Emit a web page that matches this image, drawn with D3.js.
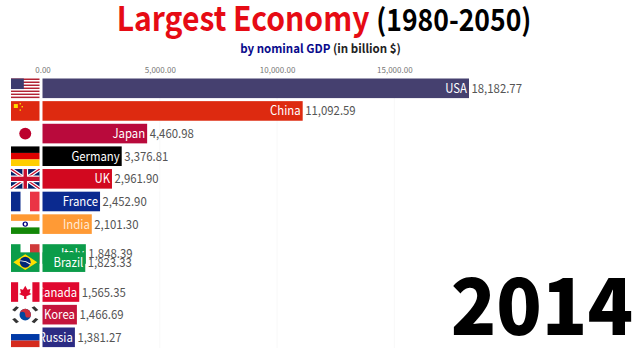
<!DOCTYPE html>
<html>
<head>
<meta charset="utf-8">
<script src="https://cdn.jsdelivr.net/npm/d3@7"></script>
<style>
  html, body { margin: 0; background: #fff; }
  svg { display: block; }
  text { font-family: "Noto Sans CJK KR", "Noto Sans", sans-serif; }
</style>
</head>
<body>
<svg id="svg" width="640" height="360"></svg>
<script>
// drawn back to front, Italy sits behind Brazil because the two are swapping places
const categories = ['USA', 'China', 'Japan', 'Germany', 'UK', 'France', 'India', 'Italy', 'Brazil', 'Canada', 'Korea', 'Russia']
const gdp = [18182.77, 11092.59, 4460.98, 3376.81, 2961.90, 2452.90, 2101.30, 1848.39, 1823.33, 1565.35, 1466.69, 1381.27]
const ranks = [0, 1, 2, 3, 4, 5, 6, 7.32, 7.68, 9, 10, 11]
const barColors = ['#45406f', '#dd2a10', '#b90a3c', '#000000', '#d2081f', '#0b2a8f', '#ff9a35', '#0b9c4a', '#0b9c4a', '#e0082f', '#c4153c', '#2b2b83']
const xTicks = [0, 5000, 10000, 15000]
const year = '2014'

const margin = {top: 78.5, left: 42.5}
const barHeight = 19.6
const flagX = 11
const flagWidth = 28.5
const squeeze = 0.91 // the source video is a little narrower than the font

const svg = d3.select('#svg')

let x_scale = d3.scaleLinear().domain([0, 18182.77]).range([margin.left, 469])
let y_scale = d3.scaleLinear().domain([0, 11]).range([margin.top, 327.5])

// titles
let title = svg.append('text')
  .attr('transform', 'translate(324, 31) scale(0.885, 1)')
  .attr('text-anchor', 'middle')
  .attr('font-size', 34)
  .attr('font-weight', 700)
title.append('tspan').attr('fill', '#e60b14').text('Largest Economy ')
title.append('tspan').attr('fill', '#000').attr('font-size', 30).text('(1980-2050)')

let subtitle = svg.append('text')
  .attr('transform', 'translate(320.5, 53) scale(0.96, 1)')
  .attr('text-anchor', 'middle')
  .attr('font-size', 12)
  .attr('font-weight', 700)
subtitle.append('tspan').attr('fill', '#0a0a8c').text('by nominal GDP ')
subtitle.append('tspan').attr('fill', '#222').text('(in billion $)')

// axis on top, with very faint grid lines
let x_axis_data = d3.axisTop(x_scale)
  .tickValues(xTicks)
  .tickFormat(d3.format(',.2f'))
  .tickSize(0)
let x_axis = svg.append('g')
  .attr('class', 'x axis')
  .attr('transform', 'translate(0, 76)')
x_axis.call(x_axis_data)
x_axis.select('.domain').remove()
x_axis.selectAll('text')
  .attr('fill', '#777')
  .attr('font-size', 8)
  .style('font-family', '"Noto Sans CJK KR", "Noto Sans", sans-serif')

svg.append('g').selectAll('line')
  .data(xTicks.slice(1))
  .join('line')
  .attr('x1', d => x_scale(d)).attr('x2', d => x_scale(d))
  .attr('y1', 78).attr('y2', 348)
  .attr('stroke', '#f8f8f8')

// flags are drawn in a 0-1 box, scaled to the row
function rect(g, x, y, w, h, fill) {
  g.append('rect').attr('x', x).attr('y', y).attr('width', w).attr('height', h).attr('fill', fill)
}
function poly(g, pts, fill) {
  g.append('polygon').attr('points', pts.map(p => p.join(',')).join(' ')).attr('fill', fill)
}
const flags = {
  USA(g) {
    d3.range(13).forEach(i => rect(g, 0, i / 13, 1, 1 / 13, i % 2 ? '#fff' : '#b22234'))
    rect(g, 0, 0, 0.45, 7 / 13, '#3c3b6e')
  },
  China(g) {
    rect(g, 0, 0, 1, 1, '#de2910')
    rect(g, 0.1, 0.15, 0.14, 0.2, '#ffde00')
    rect(g, 0.3, 0.1, 0.05, 0.07, '#ffde00')
    rect(g, 0.37, 0.25, 0.05, 0.07, '#ffde00')
    rect(g, 0.3, 0.42, 0.05, 0.07, '#ffde00')
  },
  Japan(g) {
    g.append('ellipse').attr('cx', 0.5).attr('cy', 0.5).attr('rx', 0.21).attr('ry', 0.3).attr('fill', '#bc002d')
  },
  Germany(g) {
    rect(g, 0, 0, 1, 1 / 3, '#000')
    rect(g, 0, 1 / 3, 1, 1 / 3, '#dd0000')
    rect(g, 0, 2 / 3, 1, 1 / 3, '#ffce00')
  },
  UK(g) {
    rect(g, 0, 0, 1, 1, '#012169')
    g.append('path').attr('d', 'M0,0L1,1M1,0L0,1').attr('stroke', '#fff').attr('stroke-width', 0.16).attr('fill', 'none')
    g.append('path').attr('d', 'M0,0L1,1M1,0L0,1').attr('stroke', '#c8102e').attr('stroke-width', 0.06).attr('fill', 'none')
    rect(g, 0.4, 0, 0.2, 1, '#fff')
    rect(g, 0, 0.33, 1, 0.34, '#fff')
    rect(g, 0.44, 0, 0.12, 1, '#c8102e')
    rect(g, 0, 0.39, 1, 0.22, '#c8102e')
  },
  France(g) {
    rect(g, 0, 0, 1 / 3, 1, '#0a2a8c')
    rect(g, 2 / 3, 0, 1 / 3, 1, '#ea3445')
  },
  India(g) {
    rect(g, 0, 0, 1, 1 / 3, '#ff9933')
    rect(g, 0, 2 / 3, 1, 1 / 3, '#138808')
    g.append('ellipse').attr('cx', 0.5).attr('cy', 0.5).attr('rx', 0.07).attr('ry', 0.11).attr('fill', 'none').attr('stroke', '#000080').attr('stroke-width', 0.05)
  },
  Italy(g) {
    rect(g, 0, 0, 1 / 3, 1, '#0b9c4a')
    rect(g, 2 / 3, 0, 1 / 3, 1, '#d03a3a')
  },
  Brazil(g) {
    rect(g, 0, 0, 1, 1, '#0b9c4a')
    poly(g, [[0.5, 0.1], [0.92, 0.5], [0.5, 0.9], [0.08, 0.5]], '#fedf00')
    g.append('ellipse').attr('cx', 0.5).attr('cy', 0.5).attr('rx', 0.19).attr('ry', 0.28).attr('fill', '#002776')
    g.append('path').attr('d', 'M0.32,0.44Q0.5,0.42 0.68,0.6').attr('fill', 'none').attr('stroke', '#fff').attr('stroke-width', 0.04)
  },
  Canada(g) {
    rect(g, 0, 0, 0.25, 1, '#e0082f')
    rect(g, 0.75, 0, 0.25, 1, '#e0082f')
    poly(g, [[0.5, 0.18], [0.58, 0.38], [0.68, 0.34], [0.65, 0.55], [0.72, 0.6], [0.54, 0.72], [0.54, 0.85], [0.46, 0.85], [0.46, 0.72], [0.28, 0.6], [0.35, 0.55], [0.32, 0.34], [0.42, 0.38]], '#e0082f')
  },
  Korea(g) {
    g.append('ellipse').attr('cx', 0.5).attr('cy', 0.5).attr('rx', 0.2).attr('ry', 0.3).attr('fill', '#0047a0')
    g.append('path').attr('d', 'M0.3,0.5A0.2,0.3 0 0 1 0.7,0.5A0.1,0.15 0 0 1 0.5,0.5A0.1,0.15 0 0 0 0.3,0.5Z').attr('fill', '#cd2e3a')
    let bars = [[0.16, 0.2], [0.84, 0.2], [0.16, 0.8], [0.84, 0.8]]
    bars.forEach((b, i) => {
      g.append('path')
        .attr('d', `M${b[0] - 0.07},${b[1] + (i % 3 ? -0.1 : 0.1)}L${b[0] + 0.07},${b[1] + (i % 3 ? 0.1 : -0.1)}`)
        .attr('stroke', '#333').attr('stroke-width', 0.12).attr('fill', 'none')
    })
  },
  Russia(g) {
    rect(g, 0, 1 / 3, 1, 1 / 3, '#0039a6')
    rect(g, 0, 2 / 3, 1, 1 / 3, '#d52b1e')
  }
}

// labels inside a bar are cut off where the bars start
let clip = svg.append('clipPath').attr('id', 'bars-clip')
clip.append('rect').attr('x', margin.left).attr('y', 70).attr('width', 600).attr('height', 290)

let rows = svg.append('g').selectAll('g')
  .data(categories)
  .join('g')
  .attr('class', 'row')

rows.each(function(name, i) {
  let y = y_scale(ranks[i])
  let row = d3.select(this)
  let flag = row.append('g').attr('transform', `translate(${flagX}, ${y}) scale(${flagWidth}, ${barHeight})`)
  flags[name](flag)
  row.append('rect')
    .attr('x', x_scale(0))
    .attr('y', y)
    .attr('width', x_scale(gdp[i]) - x_scale(0))
    .attr('height', barHeight)
    .attr('fill', barColors[i])
  row.append('g')
    .attr('clip-path', 'url(#bars-clip)')
    .append('text')
    .attr('transform', `translate(${x_scale(gdp[i]) - 2}, ${y + barHeight / 2 + 4.5}) scale(${squeeze}, 1)`)
    .attr('text-anchor', 'end')
    .attr('font-size', 12.5)
    .attr('fill', i == 6 ? '#ffe9d2' : '#fff')
    .text(name)
  row.append('text')
    .attr('transform', `translate(${x_scale(gdp[i]) + 2.5}, ${y + barHeight / 2 + 4.5}) scale(${squeeze}, 1)`)
    .attr('font-size', 12.5)
    .attr('fill', '#555')
    .text(d3.format(',.2f')(gdp[i]))
})

// year
svg.append('text')
  .attr('transform', 'translate(633, 335) scale(0.96, 1)')
  .attr('text-anchor', 'end')
  .attr('font-size', 78)
  .attr('font-weight', 900)
  .attr('fill', '#000')
  .text(year)
</script>
</body>
</html>
